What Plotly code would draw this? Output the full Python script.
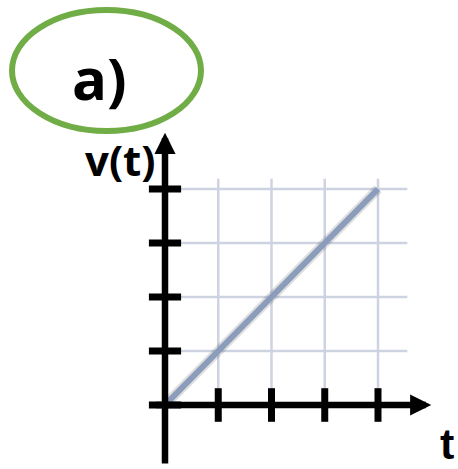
import plotly.graph_objects as go

# ---- data ----
line_t = [0, 4]
line_v = [0, 4]
x_ticks = [1, 2, 3, 4]
y_ticks = [0, 1, 2, 3, 4]
grid_x = [1, 2, 3, 4]
grid_y = [1, 2, 3, 4]
grid_x_extent = 4.55   # how far horizontal grid lines run
grid_y_extent = 4.19   # how far vertical grid lines run
x_axis_span = [-0.2, 5.0]
y_axis_span = [-1.11, 5.04]

# ---- layout geometry (pixel mapping) ----
W, H = 458, 469
X0, XU = 165, 53.25
Y0, YU = 405, 54.0
x_range = [-X0 / XU, (W - X0) / XU]
y_range = [-(H - Y0) / YU, Y0 / YU]


def px(x):
    return x / W


def py(y):
    return 1 - y / H


GRID = "#CDD3E0"
LINE = "#8C9DBC"

fig = go.Figure()

# soft shadow + main line
fig.add_trace(go.Scatter(x=line_t, y=line_v, mode="lines",
                         line=dict(color="rgba(40,40,40,0.15)", width=10),
                         hoverinfo="skip", showlegend=False))
fig.add_trace(go.Scatter(x=line_t, y=line_v, mode="lines",
                         line=dict(color=LINE, width=6),
                         showlegend=False))

# tick marks
fig.add_trace(go.Scatter(x=x_ticks, y=[0] * len(x_ticks), mode="markers",
                         marker=dict(symbol="line-ns", size=24,
                                     line=dict(color="black", width=7)),
                         hoverinfo="skip", showlegend=False))
fig.add_trace(go.Scatter(x=[0] * len(y_ticks), y=y_ticks, mode="markers",
                         marker=dict(symbol="line-ew", size=23,
                                     line=dict(color="black", width=7)),
                         hoverinfo="skip", showlegend=False))

shapes = []
for gx in grid_x:
    shapes.append(dict(type="line", xref="x", yref="y", x0=gx, x1=gx,
                       y0=0, y1=grid_y_extent, layer="below",
                       line=dict(color=GRID, width=2.5)))
for gy in grid_y:
    shapes.append(dict(type="line", xref="x", yref="y", x0=0, x1=grid_x_extent,
                       y0=gy, y1=gy, layer="below",
                       line=dict(color=GRID, width=2.5)))
# ellipse
shapes.append(dict(type="circle", xref="paper", yref="paper",
                   x0=px(12), x1=px(201), y0=py(131), y1=py(10),
                   line=dict(color="#70AD47", width=6)))

annotations = [
    # x axis arrow
    dict(x=x_axis_span[1], y=0, ax=x_axis_span[0], ay=0, xref="x", yref="y",
         axref="x", ayref="y", showarrow=True, arrowhead=2, arrowwidth=6.5,
         arrowsize=0.65, arrowcolor="black", text=""),
    # y axis arrow
    dict(x=0, y=y_axis_span[1], ax=0, ay=y_axis_span[0], xref="x", yref="y",
         axref="x", ayref="y", showarrow=True, arrowhead=2, arrowwidth=6.5,
         arrowsize=0.65, arrowcolor="black", text=""),
    dict(x=px(120), y=py(159), xref="paper", yref="paper", text="<b>v(t)</b>",
         xanchor="center", yanchor="middle",
         showarrow=False, font=dict(family="Open Sans", size=42, color="black")),
    dict(x=px(447), y=py(444), xref="paper", yref="paper", text="<b>t</b>",
         xanchor="center", yanchor="middle", borderpad=0,
         showarrow=False, font=dict(family="Liberation Sans", size=43, color="black")),
    dict(x=px(99), y=py(78), xref="paper", yref="paper", text="<b>a)</b>",
         xanchor="center", yanchor="middle",
         showarrow=False, font=dict(family="Open Sans", size=58, color="black")),
]

fig.update_layout(
    width=W, height=H,
    margin=dict(l=0, r=0, t=0, b=0),
    paper_bgcolor="white", plot_bgcolor="white",
    xaxis=dict(range=x_range, visible=False, fixedrange=True),
    yaxis=dict(range=y_range, visible=False, fixedrange=True),
    shapes=shapes, annotations=annotations, showlegend=False,
)

fig.write_html(
    "out.html",
    config={"displayModeBar": False},
    post_script="document.body.style.margin='0';document.body.style.overflow='hidden';",
)
